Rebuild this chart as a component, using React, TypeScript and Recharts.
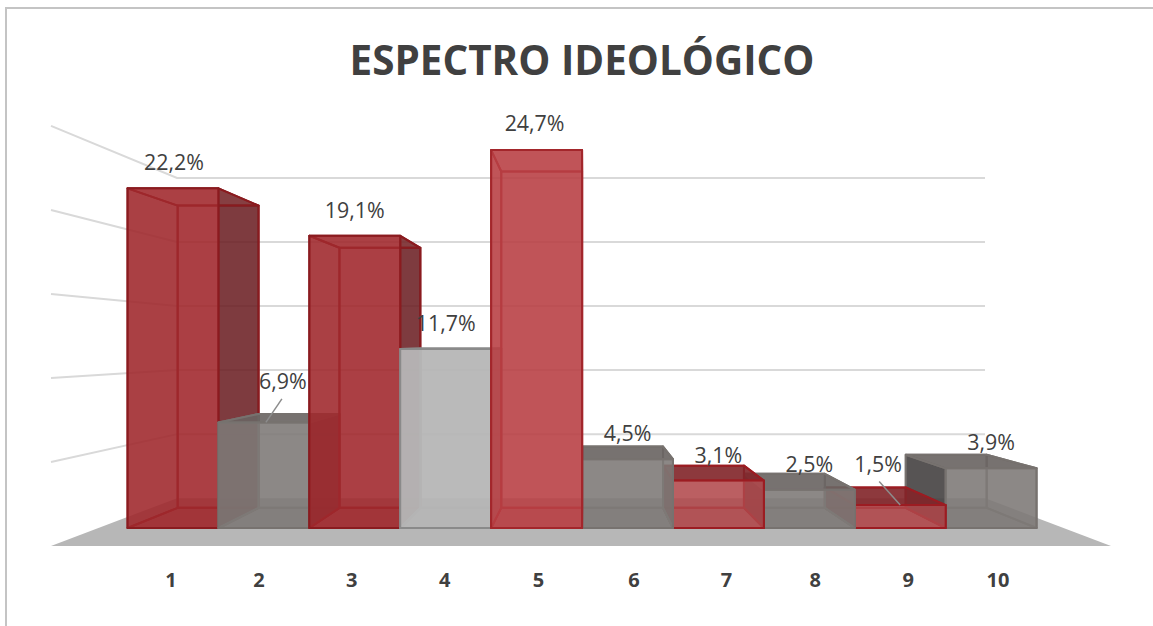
import React from 'react';
import { BarChart, Bar, XAxis, YAxis, CartesianGrid, LabelList, Customized } from 'recharts';

const categories = [1, 2, 3, 4, 5, 6, 7, 8, 9, 10];
const shares = [22.2, 6.9, 19.1, 11.7, 24.7, 4.5, 3.1, 2.5, 1.5, 3.9];
const yTicks = [0, 5, 10, 15, 20, 25];
// Rows listed in the painter's order of the 3D look: outer bars first, bar 5 (nearest the centre of view) last.
const paintOrder = [1, 2, 3, 4, 10, 9, 8, 7, 6, 5];
const rows = paintOrder.map((category) => ({ category, share: shares[category - 1] }));

// Perspective geometry of the fake 3D box
const VX = 583;
const VY = 345;
const DEPTH = 0.11;
const WALL_FRONT = 1.098;
const WALL_BACK = 0.837;
const BAR_WIDTH = 90.9;

type Tone = { fill: string; side: string; top: string; stroke: string; alpha: number };
const RED: Tone = { fill: '#a0292e', side: '#6a1f22', top: '#a63a3e', stroke: '#8a1b1f', alpha: 0.88 };
const RED_LOW: Tone = { fill: '#b0484b', side: '#7a1f22', top: '#82262a', stroke: '#9c1c22', alpha: 0.85 };
const RED_LIGHT: Tone = { fill: '#b84044', side: '#8a2a2d', top: '#bc5053', stroke: '#a3262b', alpha: 0.88 };
const GREY: Tone = { fill: '#7e7a78', side: '#474444', top: '#6a6563', stroke: '#77726f', alpha: 0.88 };
const GREY_LIGHT: Tone = { fill: '#b6b6b6', side: '#9a9a9a', top: '#6a6a6a', stroke: '#8a8a8a', alpha: 0.95 };
const TONES: Tone[] = [RED, GREY, RED, GREY_LIGHT, RED_LIGHT, GREY, RED_LOW, GREY, RED_LOW, GREY];

const LABEL_SHIFT: Record<number, [number, number]> = { 1: [1, 0], 2: [19, -15], 5: [-2, -1.5], 9: [-22, -15] };
const LEADERS = [2, 9];
const TICK_SHIFT = [-2.5, -5.5, -3.5, -1.5, 1.5, 6, 7.5, 5.5, 7.5, 6.5];

const px = (x: number) => x + DEPTH * (VX - x);
const py = (y: number) => y + DEPTH * (VY - y);
const poly = (pts: number[][]) => pts.map((p) => p.join(',')).join(' ');

function Box3D(props: any) {
  const { x, y, width, height, payload } = props;
  const t = TONES[payload.category - 1];
  const cx = x + width / 2;
  const x1 = cx - BAR_WIDTH / 2, x2 = cx + BAR_WIDTH / 2, y1 = y, y2 = y + height;
  const bx1 = px(x1), bx2 = px(x2), by1 = py(y1), by2 = py(y2);
  const edge = { stroke: t.stroke, strokeWidth: 2, strokeLinejoin: 'round' as const };
  return (
    <g>
      <rect x={bx1} y={by1} width={bx2 - bx1} height={by2 - by1} fill={t.fill} fillOpacity={0.15} {...edge} />
      <polygon points={poly([[x1, y2], [x2, y2], [bx2, by2], [bx1, by2]])} fill={t.fill} fillOpacity={0.3} {...edge} />
      <polygon points={poly([[x1, y1], [bx1, by1], [bx1, by2], [x1, y2]])} fill={t.side} fillOpacity={x1 > VX ? 0.9 : 0.12} {...edge} />
      <polygon points={poly([[x2, y1], [bx2, by1], [bx2, by2], [x2, y2]])} fill={t.side} fillOpacity={x2 < VX ? 0.85 : 0.12} {...edge} />
      <polygon points={poly([[x1, y1], [x2, y1], [bx2, by1], [bx1, by1]])} fill={t.top} fillOpacity={y1 < VY - 5 ? 0.15 : 0.9} {...edge} />
      <rect x={x1} y={y1} width={BAR_WIDTH} height={height} fill={t.fill} fillOpacity={t.alpha} {...edge} />
    </g>
  );
}

function WallLine(props: any) {
  const { y1 } = props;
  const yf = VY + (y1 - VY) * WALL_FRONT;
  const yb = VY + (y1 - VY) * WALL_BACK;
  if (Math.abs(yf - 546.5) < 3) {
    return <polygon points={poly([[51, yf], [1111, yf], [985, yb], [177, yb]])} fill="#b7b7b7" />;
  }
  return <polyline points={poly([[51, yf], [177, yb], [985, yb]])} fill="none" stroke="#d9d9d9" strokeWidth={2} />;
}

function ShareLabel(props: any) {
  const { x, y, width, index, value } = props;
  const category = rows[index].category;
  const [dx, dy] = LABEL_SHIFT[category] ?? [0, 0];
  const cx = x + width / 2 + dx;
  const cy = y - 26.5 + dy;
  const text = (value as number).toFixed(1).replace('.', ',') + '%';
  return (
    <g>
      {LEADERS.includes(category) && (
        <line x1={cx + (dx > 0 ? -1 : 1)} y1={cy + 18} x2={x + width / 2 + (dx > 0 ? 2 : 0)} y2={y} stroke="#8c8c8c" strokeWidth={1.5} />
      )}
      <text x={cx} y={cy} textAnchor="middle" dominantBaseline="central" fontFamily="'Open Sans', sans-serif" fontSize={21.4} fill="#404040">
        {text}
      </text>
    </g>
  );
}

function CategoryTick(props: any) {
  const { x, payload } = props;
  return (
    <text x={x + TICK_SHIFT[payload.value - 1]} y={579} textAnchor="middle" dominantBaseline="central" fontFamily="'Open Sans', sans-serif" fontWeight={700} fontSize={20} fill="#404040">
      {payload.value}
    </text>
  );
}

function Title() {
  return (
    <text x={582} y={59} textAnchor="middle" dominantBaseline="central" fontFamily="'Open Sans', sans-serif" fontWeight={700} fontSize={40.4} fill="#404040">
      ESPECTRO IDEOLÓGICO
    </text>
  );
}

export default function App() {
  return (
    <div style={{ position: 'absolute', left: 0, top: 0, width: 1153, height: 626, background: '#fff', overflow: 'hidden' }}>
      <div style={{ position: 'absolute', left: 5, top: 7, width: 1148, height: 619, borderLeft: '2px solid #c4c4c4', borderTop: '2px solid #c4c4c4', boxSizing: 'border-box' }} />
      <div style={{ position: 'absolute', left: 0, top: 0 }}>
        <BarChart width={1153} height={626} data={rows} barSize={80} margin={{ left: 128, right: 116, top: 145.5, bottom: 68 }}>
          <CartesianGrid vertical={false} horizontal={(p: any) => <WallLine key={p.key ?? p.index} {...p} />} syncWithTicks />
          <XAxis dataKey="category" type="number" domain={[0.5, 10.5]} ticks={categories} height={30} axisLine={false} tickLine={false} interval={0} tick={(p: any) => <CategoryTick {...p} />} />
          <YAxis hide width={0} domain={[0, 25]} ticks={yTicks} />
          <Bar dataKey="share" isAnimationActive={false} shape={(p: any) => <Box3D {...p} />}>
            <LabelList dataKey="share" content={(p: any) => <ShareLabel {...p} />} />
          </Bar>
          <Customized component={Title} />
        </BarChart>
      </div>
    </div>
  );
}
